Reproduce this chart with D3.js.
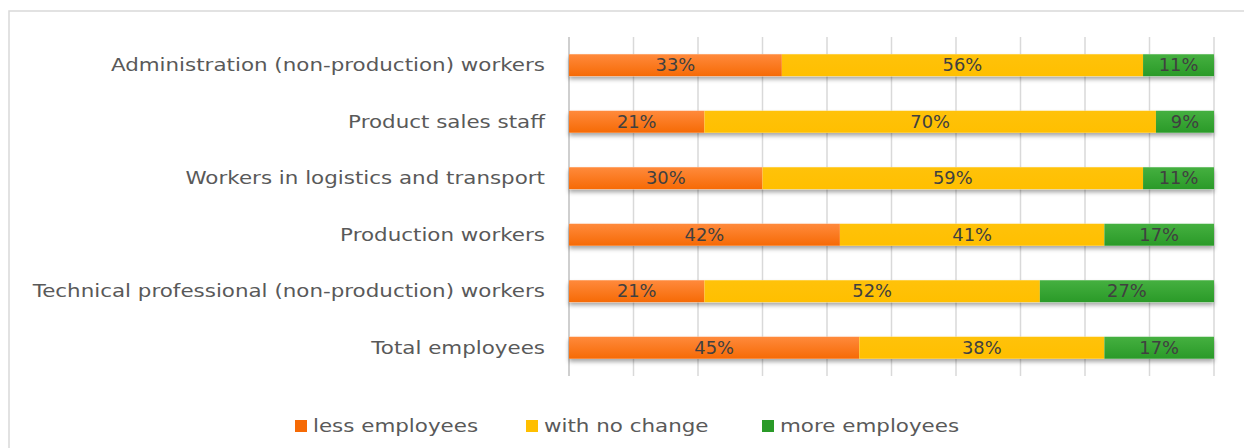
<!DOCTYPE html>
<html>
<head>
<meta charset="utf-8">
<script src="https://cdn.jsdelivr.net/npm/d3@7"></script>
<style>
  body { margin: 0; background: #fff; }
  svg { display: block; font-family: "DejaVu Sans", Verdana, sans-serif; }
</style>
</head>
<body>
<div id="chart"></div>
<script>
var categories = [
  "Administration (non-production) workers",
  "Product sales staff",
  "Workers in logistics and transport",
  "Production workers",
  "Technical professional (non-production) workers",
  "Total employees"
];
var seriesNames = ["less employees", "with no change", "more employees"];
var lessEmployees = [33, 21, 30, 42, 21, 45];
var noChange = [56, 70, 59, 41, 52, 38];
var moreEmployees = [11, 9, 11, 17, 27, 17];
var xTicks = [0, 10, 20, 30, 40, 50, 60, 70, 80, 90, 100];

var W = 1244, H = 448;
var stretch = 1.26; // source image text is stretched wide
var svg = d3.select('#chart').append('svg')
  .attr('width', W)
  .attr('height', H);

var defs = svg.append('defs');
var colors = [
  ['#ff8a3c', '#f66a05'],
  ['#ffc20a', '#ffbf00'],
  ['#45b040', '#2a9a28']
];
colors.forEach(function(c, i) {
  var g = defs.append('linearGradient')
    .attr('id', 'grad' + i)
    .attr('x1', 0).attr('y1', 0).attr('x2', 0).attr('y2', 1);
  g.append('stop').attr('offset', '0%').attr('stop-color', c[0]);
  g.append('stop').attr('offset', '100%').attr('stop-color', c[1]);
});
defs.append('filter')
  .attr('id', 'shadow')
  .attr('x', '-5%').attr('y', '-30%').attr('width', '110%').attr('height', '180%')
  .append('feDropShadow')
    .attr('dx', 0).attr('dy', 3)
    .attr('stdDeviation', 2)
    .attr('flood-color', '#000')
    .attr('flood-opacity', 0.35);

// chart frame
svg.append('rect')
  .attr('x', 9).attr('y', 11)
  .attr('width', W + 10).attr('height', H + 10)
  .attr('fill', 'none')
  .attr('stroke', '#d9d9d9')
  .attr('stroke-width', 1.5);

var x = d3.scaleLinear().domain([0, 100]).range([569, 1214]);
var y = d3.scaleBand().domain(categories).range([37, 376])
  .paddingInner(0.61).paddingOuter(0.305);

// gridlines
svg.append('g').selectAll('line')
  .data(xTicks)
  .join('line')
    .attr('x1', function(d) { return x(d); })
    .attr('x2', function(d) { return x(d); })
    .attr('y1', 37).attr('y2', 376)
    .attr('stroke', function(d) { return d === 0 ? '#bfbfbf' : '#d9d9d9'; })
    .attr('stroke-width', 1.5);

var stackData = categories.map(function(c, i) {
  return { cat: c, s0: lessEmployees[i], s1: noChange[i], s2: moreEmployees[i] };
});
var stack = d3.stack().keys(['s0', 's1', 's2'])(stackData);

// shadow row behind bars
svg.append('g').selectAll('rect')
  .data(stackData)
  .join('rect')
    .attr('x', x(0))
    .attr('y', function(d) { return y(d.cat); })
    .attr('width', function(d) { return x(d.s0 + d.s1 + d.s2) - x(0); })
    .attr('height', y.bandwidth())
    .attr('fill', '#fff')
    .attr('filter', 'url(#shadow)');

var layers = svg.append('g').selectAll('g')
  .data(stack)
  .join('g')
    .attr('fill', function(d, i) { return 'url(#grad' + i + ')'; });

layers.selectAll('rect')
  .data(function(d) { return d; })
  .join('rect')
    .attr('x', function(d) { return x(d[0]); })
    .attr('y', function(d) { return y(d.data.cat); })
    .attr('width', function(d) { return x(d[1]) - x(d[0]); })
    .attr('height', y.bandwidth());

layers.selectAll('text')
  .data(function(d) { return d; })
  .join('text')
    .attr('transform', function(d) {
      return 'translate(' + (x(d[0]) + x(d[1])) / 2 + ',' + (y(d.data.cat) + y.bandwidth() / 2) + ') scale(1.05,1)';
    })
    .attr('dy', '0.36em')
    .attr('text-anchor', 'middle')
    .attr('fill', '#404040')
    .style('font-size', '17px')
    .text(function(d) { return (d[1] - d[0]) + '%'; });

// category labels
svg.append('g').selectAll('text')
  .data(categories)
  .join('text')
    .attr('transform', function(d) {
      return 'translate(545,' + (y(d) + y.bandwidth() / 2) + ') scale(' + stretch + ',1)';
    })
    .attr('dy', '0.36em')
    .attr('text-anchor', 'end')
    .attr('fill', '#595959')
    .style('font-size', '17px')
    .text(function(d) { return d; });

// legend
var legendX = [295, 526, 762];
var legend = svg.append('g').selectAll('g')
  .data(seriesNames)
  .join('g')
    .attr('transform', function(d, i) { return 'translate(' + legendX[i] + ',426)'; });
legend.append('rect')
  .attr('x', 0).attr('y', -6)
  .attr('width', 12).attr('height', 12)
  .attr('fill', function(d, i) { return colors[i][1]; });
legend.append('text')
  .attr('transform', 'translate(18,0) scale(' + stretch + ',1)')
  .attr('dy', '0.36em')
  .attr('fill', '#595959')
  .style('font-size', '17px')
  .text(function(d) { return d; });
</script>
</body>
</html>
